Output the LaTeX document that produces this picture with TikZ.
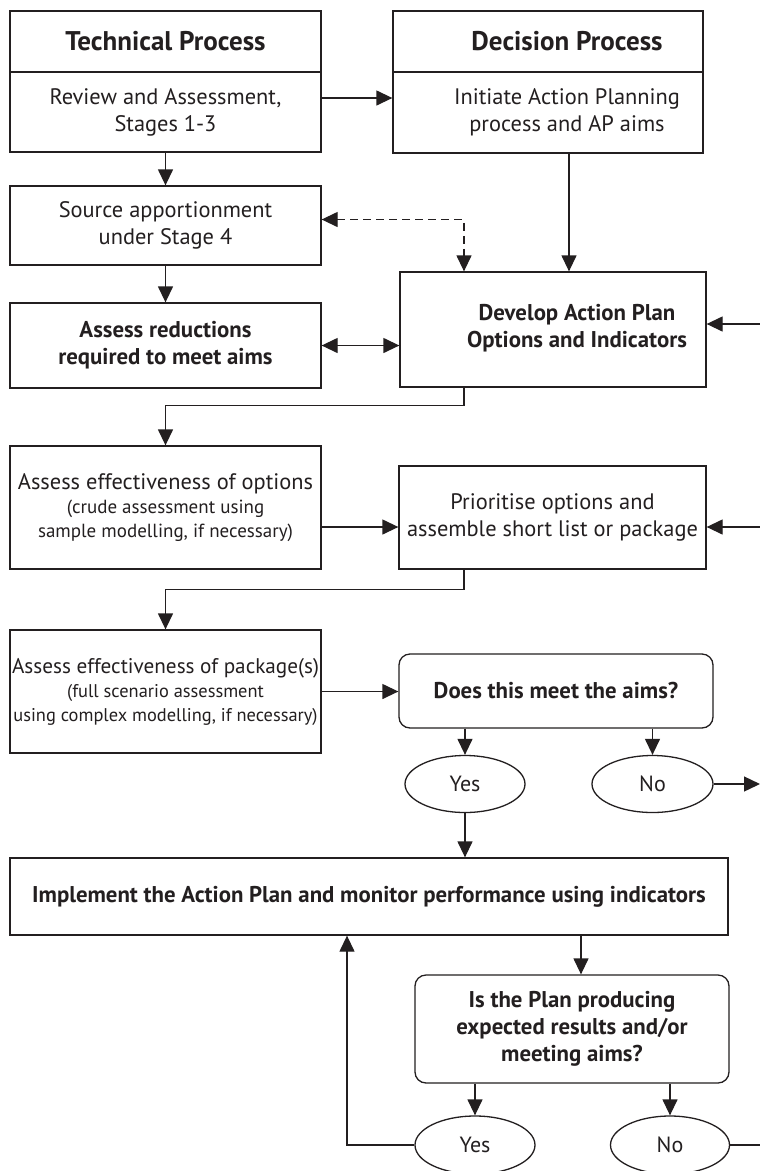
\documentclass[tikz,border=0pt]{standalone}
\usepackage{fontspec}
\setmainfont{PT Sans}
\usetikzlibrary{arrows.meta,shapes.geometric,calc}
\definecolor{ink}{HTML}{231F20}
\tikzset{
  box/.style={draw=ink, line width=1.3pt, rectangle, inner sep=0pt, align=center, text=ink, font=\fontsize{22.4}{27}\selectfont},
  rbox/.style={box, rounded corners=11pt},
  oval/.style={draw=ink, line width=1.3pt, ellipse, inner sep=0pt, text=ink, font=\fontsize{22}{27}\selectfont},
  hdr/.style={box, font=\fontsize{27}{30}\selectfont\bfseries},
  bld/.style={font=\fontsize{22.8}{27}\selectfont\bfseries},
  arr/.style={draw=ink, line width=1.3pt, -{Triangle[length=16pt,width=15pt]}},
  ln/.style={draw=ink, line width=1.3pt}
}
\begin{document}
\begin{tikzpicture}[x=1pt,y=-1pt]
\clip (0,0) rectangle (760,1171);
\fill[white] (0,0) rectangle (760,1171);
% top row
\node[hdr, minimum width=311pt, minimum height=61pt] (tech) at (165.5,41.5) {Technical Process};
\node[box, minimum width=311pt, minimum height=80pt] (review) at (165.5,112) {Review and Assessment,\\Stages 1-3};
\node[hdr, minimum width=310pt, minimum height=61pt, label={[xshift=19pt, text=ink, font=\fontsize{27}{30}\selectfont\bfseries]center:Decision Process}] (dec) at (548,41.5) {};
\node[box, minimum width=310pt, minimum height=81pt, label={[xshift=19pt, text=ink, align=center, font=\fontsize{22.4}{27}\selectfont]center:Initiate Action Planning\\process and AP aims}] (initiate) at (548,112.5) {};
% second block
\node[box, minimum width=311pt, minimum height=79pt] (source) at (165.5,225.5) {Source apportionment\\under Stage 4};
\node[box, bld, minimum width=311pt, minimum height=85pt] (reduc) at (165.5,345.5) {Assess reductions\\required to meet aims};
\node[box, minimum width=306pt, minimum height=115pt, label={[xshift=24pt, yshift=1pt, text=ink, align=center, font=\fontsize{22.8}{27}\selectfont\bfseries]center:Develop Action Plan\\Options and Indicators}] (develop) at (553,329.5) {};
% options
\node[box, minimum width=311pt, minimum height=123pt] (options) at (165.5,507.5) {Assess effectiveness of options\\[-3pt]{\fontsize{19}{26}\selectfont (crude assessment using}\\[-3pt]{\fontsize{19}{26}\selectfont sample modelling, if necessary)}};
\node[box, minimum width=307pt, minimum height=103pt] (prior) at (552.5,517.5) {Prioritise options and\\assemble short list or package};
% package
\node[box, minimum width=311pt, minimum height=123pt] (package) at (165.5,691.5) {{\fontsize{21.2}{27}\selectfont Assess effectiveness of package(s)}\\[-3pt]{\fontsize{18.4}{22}\selectfont (full scenario assessment}\\[-3pt]{\fontsize{18.4}{22}\selectfont using complex modelling, if necessary)}};
\node[rbox, bld, minimum width=314pt, minimum height=74pt] (does) at (556,691) {Does this meet the aims?};
\node[oval, minimum width=120pt, minimum height=57pt] (yesa) at (465,784) {Yes};
\node[oval, minimum width=121pt, minimum height=57pt] (noa) at (652.5,784) {No};
% implement
\node[box, bld, minimum width=718pt, minimum height=77pt] (impl) at (369,896.5) {Implement the Action Plan and monitor performance using indicators};
\node[rbox, bld, minimum width=314pt, minimum height=108pt] (isplan) at (572,1029) {Is the Plan producing\\expected results and/or\\meeting aims?};
\node[oval, minimum width=120pt, minimum height=58pt] (yesb) at (475,1145) {Yes};
\node[oval, minimum width=119pt, minimum height=58pt] (nob) at (670,1145) {No};
% edge coordinates
\coordinate (edgeA) at (760,324);
\coordinate (edgeB) at (760,527);
\coordinate (edgeC) at (760,784);
\coordinate (edgeD) at (760,1145);
% connectors
\draw[arr] ([yshift=14pt]review.east) -- ([yshift=14pt]review.east -| initiate.west);
\draw[arr] (review.south) -- (source.north);
\draw[arr] ([xshift=21pt]initiate.south) -- ([xshift=21pt]initiate.south |- develop.north);
\draw[arr, dashed, dash pattern=on 8pt off 5pt, {Triangle[length=16pt,width=15pt]}-{Triangle[length=16pt,width=15pt]}] ([yshift=6pt]source.east) -| ([xshift=-89pt]develop.north);
\draw[arr] (source.south) -- (reduc.north);
\draw[arr, {Triangle[length=16pt,width=15pt]}-{Triangle[length=16pt,width=15pt]}] (reduc.east) -- (reduc.east -| develop.west);
\draw[arr] (edgeA) -- (edgeA -| develop.east);
\draw[arr] ([xshift=-89pt]develop.south) -- ++(0,18) -| (options.north);
\draw[arr] ([yshift=-19.5pt]options.east) -- ([yshift=-19.5pt]options.east -| prior.west);
\draw[arr] (edgeB) -- (edgeB -| prior.east);
\draw[arr] ([xshift=-88.5pt]prior.south) -- ++(0,20) -| (package.north);
\draw[arr] (package.east) -- (package.east -| does.west);
\draw[arr] (yesa.north |- does.south) -- (yesa.north);
\draw[arr] (noa.north |- does.south) -- (noa.north);
\draw[arr] (noa.east) -- (edgeC);
\draw[arr] (yesa.south) -- (yesa.south |- impl.north);
\draw[arr] ([xshift=9pt]isplan.north |- impl.south) -- ([xshift=9pt]isplan.north);
\draw[arr] (yesb.north |- isplan.south) -- (yesb.north);
\draw[arr] (nob.north |- isplan.south) -- (nob.north);
\draw[arr] (yesb.west) -| ([xshift=-22pt]impl.south);
\draw[ln] (nob.east) -- (edgeD);
\end{tikzpicture}
\end{document}
